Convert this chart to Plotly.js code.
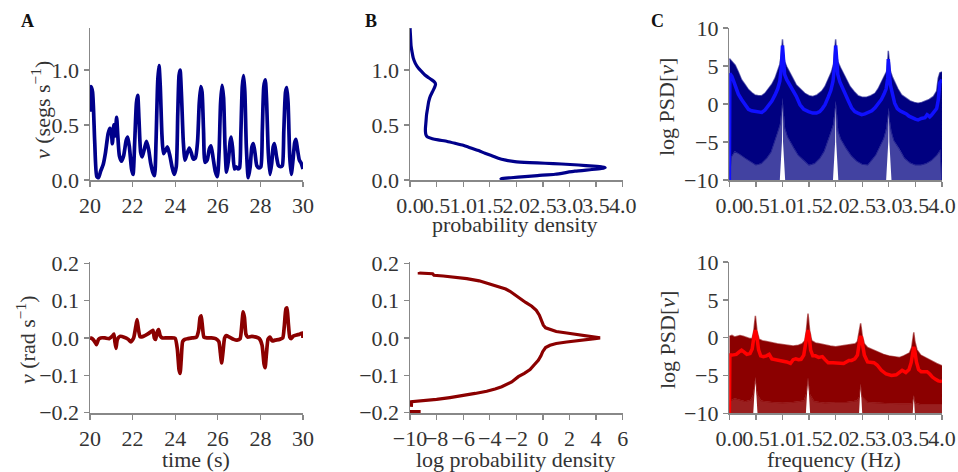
<!DOCTYPE html>
<html>
<head>
<meta charset="utf-8">
<script src="https://cdn.plot.ly/plotly-3.0.1.min.js"></script>
<style>html,body{margin:0;padding:0;background:#fff;}#chart{width:958px;height:472px;}</style>
</head>
<body>
<div id="chart"></div>
<script>
// ---------- Panel A (time series) ----------
const timeV = [20.00,20.05,20.12,20.22,20.32,20.40,20.50,20.62,20.72,20.85,20.93,21.00,21.05,21.12,21.18,21.25,21.30,21.38,21.48,21.58,21.70,21.77,21.85,21.95,22.02,22.10,22.18,22.24,22.30,22.38,22.45,22.55,22.65,22.75,22.85,22.95,23.03,23.10,23.18,23.24,23.30,23.38,23.45,23.55,23.64,23.75,23.85,23.95,24.05,24.12,24.18,24.23,24.30,24.38,24.46,24.56,24.66,24.75,24.85,24.95,25.05,25.13,25.20,25.26,25.33,25.40,25.50,25.60,25.68,25.78,25.88,25.98,26.06,26.13,26.20,26.27,26.34,26.41,26.50,26.58,26.63,26.70,26.78,26.86,26.95,27.02,27.08,27.15,27.21,27.27,27.34,27.43,27.52,27.60,27.67,27.75,27.83,27.93,28.02,28.09,28.16,28.23,28.29,28.37,28.45,28.53,28.60,28.66,28.75,28.85,28.95,29.03,29.10,29.18,29.24,29.30,29.38,29.45,29.53,29.61,29.67,29.74,29.83,29.92,30.00];
const speedV = [0.62,0.85,0.80,0.35,0.03,0.02,0.08,0.14,0.24,0.42,0.47,0.44,0.33,0.50,0.40,0.57,0.42,0.22,0.17,0.22,0.36,0.39,0.30,0.10,0.05,0.35,0.70,0.77,0.55,0.25,0.21,0.28,0.35,0.28,0.15,0.07,0.04,0.35,0.90,1.04,0.85,0.40,0.24,0.27,0.30,0.22,0.12,0.05,0.12,0.60,0.95,1.00,0.75,0.35,0.18,0.24,0.29,0.25,0.19,0.20,0.35,0.70,0.85,0.80,0.45,0.16,0.18,0.28,0.31,0.20,0.08,0.03,0.25,0.70,0.86,0.75,0.30,0.07,0.18,0.35,0.39,0.28,0.10,0.12,0.10,0.11,0.40,0.85,0.95,0.80,0.30,0.02,0.12,0.30,0.33,0.24,0.13,0.11,0.12,0.45,0.85,0.91,0.72,0.25,0.05,0.15,0.30,0.33,0.22,0.13,0.12,0.13,0.45,0.80,0.84,0.70,0.20,0.05,0.18,0.34,0.37,0.28,0.18,0.15,0.10];

const timeN = [20.00,20.10,20.22,20.30,20.40,20.50,20.70,20.90,21.05,21.12,21.17,21.22,21.28,21.40,21.60,21.80,21.92,22.05,22.15,22.21,22.27,22.35,22.50,22.70,22.90,22.96,23.02,23.08,23.15,23.22,23.30,23.40,23.60,23.80,24.00,24.10,24.18,24.23,24.28,24.35,24.45,24.60,24.80,25.00,25.10,25.17,25.22,25.28,25.35,25.50,25.70,25.90,26.05,26.12,26.18,26.24,26.32,26.40,26.55,26.75,26.90,27.05,27.12,27.19,27.25,27.32,27.40,27.60,27.80,27.95,28.08,28.17,28.22,28.28,28.36,28.45,28.55,28.70,28.90,29.05,29.12,29.20,29.25,29.31,29.38,29.45,29.55,29.70,29.85,29.97,30.00];
const turnN = [0.000,-0.002,-0.010,-0.018,-0.004,0.000,0.000,-0.002,0.005,0.010,-0.010,-0.028,-0.005,0.004,0.002,-0.004,-0.011,0.000,0.030,0.049,0.025,0.003,0.004,0.010,0.018,0.020,0.000,-0.004,0.015,0.022,0.005,0.000,0.000,0.000,-0.001,-0.030,-0.085,-0.095,-0.060,-0.010,-0.004,-0.002,0.000,0.002,0.020,0.055,0.059,0.030,0.002,0.000,0.000,-0.002,-0.010,-0.040,-0.067,-0.040,0.000,0.006,0.002,-0.004,-0.006,-0.002,0.030,0.070,0.055,0.010,0.002,0.004,0.002,-0.002,-0.020,-0.070,-0.080,-0.045,-0.003,0.002,-0.008,-0.006,-0.004,0.000,0.030,0.078,0.080,0.040,0.002,-0.002,0.005,0.008,0.010,0.013,0.000];

// ---------- Panel B (densities) ----------
const densV = [0.00,0.01,0.02,0.04,0.06,0.10,0.16,0.22,0.28,0.35,0.41,0.46,0.48,0.46,0.42,0.38,0.35,0.33,0.31,0.30,0.29,0.29,0.30,0.33,0.42,0.53,0.70,0.85,1.00,1.16,1.30,1.41,1.55,1.66,1.80,1.97,2.25,2.54,2.85,3.17,3.45,3.62,3.67,3.60,3.42,3.10,2.73,2.40,2.16,1.90,1.72,1.70];
const densVlevel = [1.38,1.30,1.22,1.16,1.11,1.06,1.015,0.985,0.955,0.93,0.91,0.89,0.87,0.84,0.80,0.76,0.71,0.65,0.59,0.53,0.47,0.44,0.41,0.39,0.375,0.364,0.35,0.333,0.315,0.288,0.265,0.242,0.218,0.197,0.18,0.167,0.158,0.152,0.145,0.136,0.125,0.117,0.112,0.105,0.095,0.08,0.052,0.04,0.03,0.02,0.012,0.0];

const logDensN = [-9.3,-9.3,-8.3,-8.2,-7.5,-6.74,-5.73,-4.8,-4.23,-3.7,-3.23,-2.8,-2.48,-2.1,-1.72,-1.3,-0.84,-0.5,-0.27,-0.1,0.03,0.2,0.53,1.0,1.79,2.6,3.3,3.9,4.3,3.9,3.3,2.6,1.79,1.0,0.53,0.2,-0.02,-0.15,-0.35,-0.65,-0.97,-1.4,-1.85,-2.35,-2.7,-3.1,-3.6,-4.23,-5.1,-5.99,-7.0,-8.0,-9.0,-9.88,-9.9,null,-10.5,-9.2];
const logDensNlevel = [0.177,0.174,0.172,0.168,0.166,0.163,0.159,0.153,0.147,0.142,0.137,0.131,0.125,0.115,0.105,0.095,0.085,0.074,0.061,0.047,0.034,0.027,0.022,0.017,0.013,0.009,0.005,0.002,0.0,-0.002,-0.004,-0.007,-0.011,-0.015,-0.02,-0.026,-0.037,-0.048,-0.06,-0.072,-0.085,-0.095,-0.104,-0.118,-0.125,-0.131,-0.137,-0.143,-0.149,-0.155,-0.160,-0.165,-0.168,-0.171,-0.185,null,-0.198,-0.198];

// ---------- Panel C (log PSD of v) ----------
const psdVupF = [0.00,0.05,0.11,0.17,0.23,0.30,0.36,0.42,0.48,0.55,0.61,0.67,0.73,0.80,0.86,0.91,0.95,0.98,1.00,1.02,1.04,1.08,1.13,1.20,1.26,1.34,1.42,1.50,1.57,1.65,1.74,1.80,1.86,1.92,1.96,1.98,2.00,2.02,2.04,2.09,2.14,2.20,2.27,2.35,2.42,2.50,2.58,2.66,2.74,2.80,2.86,2.92,2.96,2.98,2.99,3.01,3.03,3.07,3.11,3.17,3.24,3.32,3.40,3.48,3.55,3.62,3.68,3.76,3.84,3.90,3.93,3.96,4.00];
const psdVup = [6.0,5.6,5.1,4.2,3.2,2.5,1.9,1.5,1.2,1.1,1.1,1.4,1.9,2.6,3.4,4.3,5.2,6.6,8.5,6.4,5.6,4.9,4.3,3.3,2.5,1.9,1.4,1.1,1.0,1.2,1.7,2.3,3.2,4.2,5.2,6.6,8.5,6.4,5.6,4.8,4.1,3.2,2.3,1.6,1.1,0.9,0.9,1.1,1.4,2.0,2.8,3.6,4.3,5.6,7.0,5.5,4.3,3.5,2.8,2.0,1.2,0.8,0.4,0.2,0.1,0.2,0.4,0.6,1.0,1.7,3.4,4.1,4.2];
const psdVloF = [0.00,0.03,0.10,0.20,0.30,0.40,0.50,0.60,0.70,0.78,0.85,0.91,0.95,0.98,1.00,1.02,1.05,1.10,1.15,1.22,1.30,1.40,1.50,1.60,1.70,1.78,1.85,1.91,1.95,1.98,2.00,2.02,2.05,2.10,2.20,2.30,2.40,2.50,2.60,2.68,2.75,2.82,2.90,2.95,2.98,3.00,3.02,3.05,3.10,3.20,3.30,3.40,3.50,3.60,3.70,3.80,3.90,3.97,4.00];
const psdVlo = [-10,-7.0,-6.2,-6.6,-7.1,-7.6,-8.0,-7.8,-7.1,-6.3,-4.9,-3.6,-2.7,-1.0,0.8,-0.5,-3.2,-4.3,-4.9,-5.8,-6.7,-7.4,-8.0,-7.8,-7.1,-6.2,-4.9,-3.6,-2.7,-1.0,0.4,-0.8,-3.6,-4.6,-5.8,-6.8,-7.5,-7.9,-8.0,-7.3,-6.7,-5.6,-4.5,-3.2,-2.0,-0.5,-2.2,-3.6,-4.8,-5.9,-7.1,-7.7,-8.0,-8.0,-7.8,-7.4,-6.7,-6.0,-10];
const psdVfrF = [0.00,0.95,0.99,1.00,1.01,1.05,1.95,1.99,2.00,2.01,2.05,2.95,2.99,3.00,3.01,3.05,4.00];
const psdVfr = [-10,-10,-5,0.8,-5,-10,-10,-5,0.4,-5,-10,-10,-5,-0.5,-5,-10,-10];
const psdVmeanF = [0.00,0.01,0.05,0.11,0.17,0.23,0.30,0.36,0.42,0.48,0.55,0.61,0.67,0.73,0.80,0.86,0.91,0.95,0.98,1.00,1.02,1.04,1.08,1.13,1.20,1.26,1.33,1.40,1.49,1.57,1.64,1.70,1.75,1.80,1.86,1.91,1.95,1.98,2.00,2.02,2.04,2.08,2.12,2.18,2.24,2.30,2.36,2.42,2.49,2.55,2.61,2.68,2.74,2.80,2.86,2.91,2.95,2.98,2.99,3.01,3.03,3.07,3.11,3.16,3.21,3.27,3.33,3.38,3.43,3.50,3.55,3.61,3.68,3.72,3.74,3.77,3.80,3.86,3.90,3.93,3.96,4.00];
const psdVmean = [-11,4.0,3.6,2.3,1.3,0.6,-0.1,-0.7,-0.9,-1.0,-1.0,-1.1,-0.8,-0.3,0.4,1.2,2.0,3.0,5.0,7.7,5.0,3.9,3.2,2.6,1.7,1.0,-0.1,-0.7,-1.0,-1.2,-1.2,-1.0,-0.6,-0.1,0.9,1.8,3.0,5.0,7.7,5.0,3.9,2.9,2.2,1.4,0.4,-0.5,-1.0,-1.2,-1.4,-1.3,-1.1,-0.9,-0.5,0.0,0.6,1.3,2.0,3.4,5.9,4.0,2.5,1.3,0.1,-0.6,-0.9,-1.1,-1.3,-1.6,-1.8,-2.0,-2.1,-1.9,-1.8,-1.4,-1.5,-1.7,-1.5,-1.0,-0.6,0.5,2.8,3.2];

// ---------- Panel C (log PSD of nu) ----------
const psdNupF = [0.00,0.05,0.10,0.15,0.20,0.26,0.32,0.38,0.43,0.46,0.49,0.52,0.56,0.62,0.70,0.80,0.90,1.00,1.10,1.20,1.30,1.37,1.42,1.45,1.48,1.51,1.55,1.62,1.70,1.80,1.90,2.00,2.10,2.20,2.30,2.37,2.41,2.44,2.47,2.50,2.54,2.60,2.70,2.80,2.90,3.00,3.10,3.20,3.28,3.34,3.39,3.43,3.45,3.47,3.49,3.53,3.60,3.70,3.80,3.90,4.00];
const psdNup = [0.2,0.3,0.1,0.2,0.3,0.2,0.0,-0.1,-0.1,0.9,2.9,0.9,-0.2,-0.4,-0.5,-0.7,-0.8,-0.9,-1.0,-1.1,-1.0,-0.8,-0.4,1.0,3.2,1.0,-0.4,-0.7,-0.8,-1.0,-1.1,-1.2,-1.1,-1.0,-0.9,-0.8,-0.5,0.5,1.9,0.3,-0.8,-1.3,-1.6,-1.95,-2.2,-2.4,-2.5,-2.6,-2.4,-2.2,-2.0,-1.3,-0.4,0.7,-0.5,-1.6,-2.3,-2.7,-3.0,-3.4,-3.7];
const psdNloF = [0.00,0.02,0.10,0.20,0.30,0.40,0.45,0.49,0.53,0.60,0.80,1.00,1.20,1.40,1.44,1.48,1.52,1.60,1.80,2.00,2.20,2.40,2.44,2.47,2.50,2.60,2.80,3.00,3.20,3.40,3.44,3.47,3.50,3.60,3.80,4.00];
const psdNlo = [-10,-8.3,-8.0,-8.2,-8.4,-8.2,-7.5,-5.2,-7.5,-8.3,-8.5,-8.6,-8.5,-8.3,-7.5,-5.3,-7.5,-8.4,-8.6,-8.5,-8.5,-8.3,-7.8,-6.1,-7.8,-8.5,-8.6,-8.7,-8.7,-8.7,-8.6,-7.6,-8.6,-8.8,-8.8,-8.8];
const psdNfrF = [0.00,0.45,0.49,0.53,1.44,1.48,1.52,2.44,2.47,2.50,3.45,3.47,3.49,4.00];
const psdNfr = [-10,-10,-5.2,-10,-10,-5.3,-10,-10,-6.1,-10,-10,-7.6,-10,-10];
const psdNmeanF = [0.00,0.01,0.05,0.13,0.18,0.23,0.28,0.33,0.39,0.43,0.46,0.49,0.52,0.55,0.59,0.64,0.70,0.75,0.80,0.88,0.98,1.08,1.15,1.20,1.25,1.30,1.35,1.40,1.43,1.46,1.48,1.50,1.53,1.57,1.62,1.68,1.75,1.80,1.86,1.95,2.05,2.15,2.20,2.25,2.30,2.36,2.41,2.44,2.46,2.48,2.50,2.54,2.60,2.66,2.72,2.78,2.86,2.95,3.05,3.14,3.20,3.25,3.32,3.38,3.42,3.45,3.47,3.49,3.52,3.56,3.61,3.67,3.72,3.77,3.82,3.88,3.93,4.00];
const psdNmean = [-11,-2.3,-2.3,-2.2,-1.9,-1.65,-1.9,-2.2,-2.1,-1.5,0.0,1.0,0.0,-1.6,-2.4,-2.5,-2.4,-2.2,-2.8,-2.9,-3.0,-3.2,-3.4,-2.9,-2.8,-2.9,-2.85,-2.3,-1.0,0.3,1.0,0.3,-1.65,-2.4,-2.4,-2.6,-2.5,-2.9,-3.3,-3.3,-3.3,-3.4,-3.2,-3.0,-3.0,-2.8,-2.3,-0.8,0.0,0.2,-0.6,-2.3,-3.2,-3.3,-3.3,-3.6,-4.3,-4.8,-5.0,-4.9,-4.5,-4.3,-4.6,-4.2,-3.3,-1.8,-1.2,-1.8,-3.2,-4.2,-4.5,-4.5,-4.5,-4.8,-5.2,-5.5,-5.7,-5.8];

// ---------- helpers ----------
function polygon(xa, ya, xb, yb) {
  return { x: xa.concat(xb.slice().reverse()), y: ya.concat(yb.slice().reverse()) };
}
const NAVY = '#00008b', DRED = '#8b0000';
const traces = [];
traces.push({x: timeV, y: speedV, xaxis:'x', yaxis:'y', mode:'lines', line:{color:NAVY, width:3.7, shape:'spline', smoothing:0.6}});
traces.push({x: densV, y: densVlevel, xaxis:'x2', yaxis:'y2', mode:'lines', line:{color:NAVY, width:3.2, shape:'spline', smoothing:0.5}});
// C top
let p = polygon(psdVfrF, psdVfr, psdVloF, psdVlo);
traces.push({x:p.x, y:p.y, xaxis:'x3', yaxis:'y3', mode:'lines', fill:'toself', fillcolor:'rgba(0,0,128,0.74)', line:{width:0}});
p = polygon(psdVupF, psdVup, psdVloF, psdVlo);
traces.push({x:p.x, y:p.y, xaxis:'x3', yaxis:'y3', mode:'lines', fill:'toself', fillcolor:'#000080', line:{width:1.5, color:'rgba(0,0,128,0.6)'}});
traces.push({x: psdVmeanF, y: psdVmean, xaxis:'x3', yaxis:'y3', mode:'lines', line:{color:'#1010ff', width:3.5}});
// A bottom
traces.push({x: timeN, y: turnN, xaxis:'x4', yaxis:'y4', mode:'lines', line:{color:DRED, width:3.7, shape:'spline', smoothing:0.5}});
// B bottom
traces.push({x: logDensN, y: logDensNlevel, xaxis:'x5', yaxis:'y5', mode:'lines', connectgaps:false, line:{color:DRED, width:3.2}});
// C bottom
p = polygon(psdNfrF, psdNfr, psdNloF, psdNlo);
traces.push({x:p.x, y:p.y, xaxis:'x6', yaxis:'y6', mode:'lines', fill:'toself', fillcolor:'rgba(139,0,0,0.88)', line:{width:0}});
p = polygon(psdNupF, psdNup, psdNloF, psdNlo);
traces.push({x:p.x, y:p.y, xaxis:'x6', yaxis:'y6', mode:'lines', fill:'toself', fillcolor:DRED, line:{width:1.5, color:'rgba(139,0,0,0.6)'}});
traces.push({x: psdNmeanF, y: psdNmean, xaxis:'x6', yaxis:'y6', mode:'lines', line:{color:'#ff0000', width:3.5}});
traces.forEach(t => { t.showlegend = false; t.hoverinfo = 'skip'; });

// ---------- layout ----------
const W = 958, H = 472;
const FONT = 'Liberation Serif, Times New Roman, serif';
const colA = [90/W, 303/W], colB = [410/W, 622.7/W], colC = [729.3/W, 942/W];
const rowTop = [1-180/H, 1-28/H], rowBot = [1-413.4/H, 1-262/H];
function ax(domain, anchor, extra) {
  return Object.assign({
    domain: domain, anchor: anchor, showline: true, linecolor: '#888', linewidth: 1.5,
    ticks: 'outside', ticklen: 5, tickwidth: 1.3, tickcolor: '#888',
    showgrid: false, zeroline: false, tickangle: 0, fixedrange: true,
    tickfont: {family: FONT, size: 22, color: '#333'}
  }, extra);
}
function ann(text, x, y, opts) {
  return Object.assign({text: text, x: x/W, y: 1-y/H, xref:'paper', yref:'paper', showarrow:false,
    xanchor:'center', yanchor:'middle', font:{family: FONT, size: 22, color:'#333'}}, opts || {});
}
const layout = {
  width: W, height: H, margin: {l:0, r:0, t:0, b:0}, paper_bgcolor:'#fff', plot_bgcolor:'#fff',
  font: {family: FONT, size: 22, color: '#333'}, showlegend: false,
  xaxis:  ax(colA, 'y',  {range:[20, 30], tickvals:[20,22,24,26,28,30]}),
  yaxis:  ax(rowTop, 'x', {range:[-0.0005, 1.382], tickvals:[0,0.5,1.0], tickformat:'.1f'}),
  xaxis2: ax(colB, 'y2', {range:[-0.0005, 4.0005], dtick:0.5, tick0:0, tickformat:'.1f'}),
  yaxis2: ax(rowTop, 'x2', {range:[-0.0005, 1.382], tickvals:[0,0.5,1.0], tickformat:'.1f'}),
  xaxis3: ax(colC, 'y3', {range:[-0.0005, 4.0005], dtick:0.5, tick0:0, tickformat:'.1f'}),
  yaxis3: ax(rowTop, 'x3', {range:[-10.001, 10.001], dtick:5, tick0:0}),
  xaxis4: ax(colA, 'y4', {range:[20, 30], tickvals:[20,22,24,26,28,30]}),
  yaxis4: ax(rowBot, 'x4', {range:[-0.2025, 0.2035], dtick:0.1, tick0:0, tickformat:'.1f'}),
  xaxis5: ax(colB, 'y5', {range:[-10.001, 6.001], dtick:2, tick0:0}),
  yaxis5: ax(rowBot, 'x5', {range:[-0.2025, 0.2035], dtick:0.1, tick0:0, tickformat:'.1f'}),
  xaxis6: ax(colC, 'y6', {range:[-0.0005, 4.0005], dtick:0.5, tick0:0, tickformat:'.1f'}),
  yaxis6: ax(rowBot, 'x6', {range:[-10.001, 10.001], dtick:5, tick0:0}),
  annotations: [
    ann('<b>A</b>', 27, 21, {font:{family:FONT, size:18, color:'#111'}}),
    ann('<b>B</b>', 371, 21, {font:{family:FONT, size:18, color:'#111'}}),
    ann('<b>C</b>', 657, 21, {font:{family:FONT, size:18, color:'#111'}}),
    ann('<i>v</i> (segs s<sup>−1</sup>)', 41, 110, {textangle:-90}),
    ann('<i>ν</i> (rad s<sup>−1</sup>)', 26, 340, {textangle:-90}),
    ann('time (s)', 196, 459),
    ann('probability density', 515, 224),
    ann('log probability density', 515, 459),
    ann('log PSD[<i>v</i>]', 667, 107, {textangle:-90}),
    ann('log PSD[<i>ν</i>]', 667, 340, {textangle:-90}),
    ann('frequency (Hz)', 834, 459)
  ]
};
Plotly.newPlot('chart', traces, layout, {staticPlot: true, displayModeBar: false});
</script>
</body>
</html>
